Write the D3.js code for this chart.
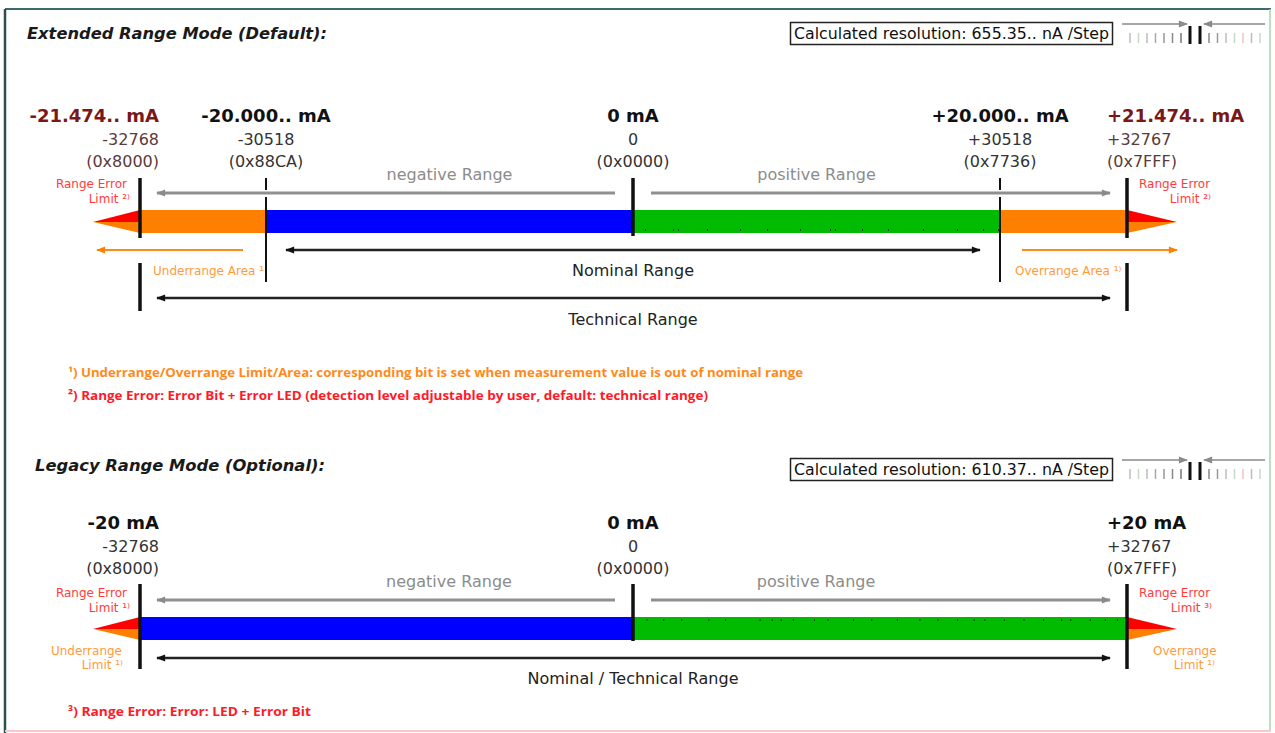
<!DOCTYPE html>
<html><head><meta charset="utf-8">
<script src="https://cdn.jsdelivr.net/npm/d3@7/dist/d3.min.js"></script>
<style>body{margin:0;background:#fff}svg{display:block}</style>
</head><body>
<svg id="c" width="1275" height="733"></svg>
<script>
// ---------- DATA ----------
const extTitle = "Extended Range Mode (Default):";
const extResolution = "Calculated resolution: 655.35.. nA /Step";
const extValues = [-32768, -30518, 0, 30518, 32767];
const extCurrent = ["-21.474.. mA", "-20.000.. mA", "0 mA", "+20.000.. mA", "+21.474.. mA"];
const extDecimal = ["-32768", "-30518", "0", "+30518", "+32767"];
const extHex = ["(0x8000)", "(0x88CA)", "(0x0000)", "(0x7736)", "(0x7FFF)"];
const extSegFrom = [-32768, -30518, 0, 30518];
const extSegTo = [-30518, 0, 30518, 32767];
const extSegKind = ["under", "neg", "pos", "over"];
const extDots = [998, 3326, 3742, 6153, 8897, 11142, 13886, 16381, 16797, 19042, 21204, 24115, 26942, 29104, 30351];
const extNotes = [
  "¹) Underrange/Overrange Limit/Area: corresponding bit is set when measurement value is out of nominal range",
  "²) Range Error: Error Bit + Error LED (detection level adjustable by user, default: technical range)"
];

const legTitle = "Legacy Range Mode (Optional):";
const legResolution = "Calculated resolution: 610.37.. nA /Step";
const legValues = [-32768, 0, 32767];
const legCurrent = ["-20 mA", "0 mA", "+20 mA"];
const legDecimal = ["-32768", "0", "+32767"];
const legHex = ["(0x8000)", "(0x0000)", "(0x7FFF)"];
const legSegFrom = [-32768, 0];
const legSegTo = [0, 32767];
const legSegKind = ["neg", "pos"];
const legDots = [900, 2000, 3200, 5000, 6100, 8400, 9200, 9800, 10600, 12000, 12900, 14600, 15800, 17500, 19000, 20200, 21500, 22600, 23300, 24600, 25900, 27200, 28400, 29000, 30300, 31300, 32100];
const legNotes = ["³) Range Error: Error: LED + Error Bit"];

// ---------- STYLE ----------
const col = {under: "#ff8000", over: "#ff8000", neg: "#0000ff", pos: "#00bb00",
  red: "#ff0000", orange: "#ff8000", gray: "#909090", txtGray: "#8c8c8c",
  errText: "#ff3b3b", areaText: "#ff9a3c", dark: "#111"};
const FONT = "'DejaVu Sans', Verdana, sans-serif";

const svg = d3.select("#c");

// arrow markers
const defs = svg.append("defs");
function marker(id, color, w, h) {
  const m = defs.append("marker").attr("id", id).attr("viewBox", "0 0 10 10")
    .attr("refX", 9).attr("refY", 5).attr("markerWidth", w).attr("markerHeight", h)
    .attr("markerUnits", "userSpaceOnUse").attr("orient", "auto-start-reverse");
  m.append("path").attr("d", "M0,1 L10,5 L0,9 Z").attr("fill", color);
}
marker("aGray", "#8a8a8a", 10, 9);
marker("aBlack", "#111", 10, 9);
marker("aOrange", "#ff8000", 10, 9);

// frame
svg.append("line").attr("x1", 5).attr("x2", 1271).attr("y1", 9).attr("y2", 9).attr("stroke", "#3d6b6b").attr("stroke-width", 2);
svg.append("line").attr("x1", 5).attr("x2", 5).attr("y1", 9).attr("y2", 733).attr("stroke", "#2f4f4f").attr("stroke-width", 2.5);
svg.append("line").attr("x1", 1270).attr("x2", 1270).attr("y1", 9).attr("y2", 731).attr("stroke", "#a9d6a9").attr("stroke-width", 1.5);
svg.append("line").attr("x1", 5).attr("x2", 1271).attr("y1", 731).attr("y2", 731).attr("stroke", "#f7c9c9").attr("stroke-width", 2);

function text(g, x, y, s, opts) {
  const t = g.append("text").attr("x", x).attr("y", y).text(s)
    .attr("font-family", opts.family || FONT).attr("font-size", opts.size || 16)
    .attr("fill", opts.fill || col.dark).attr("text-anchor", opts.anchor || "start");
  if (opts.weight) t.attr("font-weight", opts.weight);
  if (opts.style) t.attr("font-style", opts.style);
  if (opts.len) t.attr("textLength", opts.len).attr("lengthAdjust", "spacingAndGlyphs");
  return t;
}

function resolutionBox(g, y, label) {
  g.append("rect").attr("x", 790.5).attr("y", y + 0.5).attr("width", 322).attr("height", 22)
    .attr("fill", "#fff").attr("stroke", "#222").attr("stroke-width", 1.5);
  text(g, 794, y + 17, label, {size: 15, fill: "#111", len: 315});
  // small scale icon
  const ig = g.append("g");
  ig.append("line").attr("x1", 1122).attr("x2", 1187).attr("y1", y + 2).attr("y2", y + 2)
    .attr("stroke", "#8a8a8a").attr("stroke-width", 1.5).attr("marker-end", "url(#aGray)");
  ig.append("line").attr("x1", 1265).attr("x2", 1204).attr("y1", y + 2).attr("y2", y + 2)
    .attr("stroke", "#8a8a8a").attr("stroke-width", 1.5).attr("marker-end", "url(#aGray)");
  const tickCols = ["#bbb", "#c8d8c8", "#bbb", "#aaa", "#999", "#888", "#777"];
  tickCols.forEach((c, i) => {
    ig.append("line").attr("x1", 1130 + i * 8.5).attr("x2", 1130 + i * 8.5).attr("y1", y + 11).attr("y2", y + 21)
      .attr("stroke", c).attr("stroke-width", 1.5);
  });
  const tickCols2 = ["#888", "#999", "#bbb", "#c8d8c8", "#f0c0c0", "#bbb", "#c8d8c8"];
  tickCols2.forEach((c, i) => {
    ig.append("line").attr("x1", 1209 + i * 8.5).attr("x2", 1209 + i * 8.5).attr("y1", y + 11).attr("y2", y + 21)
      .attr("stroke", c).attr("stroke-width", 1.5);
  });
  ig.append("line").attr("x1", 1190).attr("x2", 1190).attr("y1", y + 4).attr("y2", y + 22).attr("stroke", "#111").attr("stroke-width", 3);
  ig.append("line").attr("x1", 1200).attr("x2", 1200).attr("y1", y + 4).attr("y2", y + 22).attr("stroke", "#111").attr("stroke-width", 3);
}

function rangeArrow(g, x1, x2, y, mk, color, w, both) {
  const l = g.append("line").attr("x1", x1).attr("x2", x2).attr("y1", y).attr("y2", y)
    .attr("stroke", color).attr("stroke-width", w).attr("marker-end", `url(#${mk})`);
  if (both) l.attr("marker-start", `url(#${mk})`);
}

function errorTip(g, xBase, xApex, yTop, yBot) {
  const yMid = (yTop + yBot) / 2 + 0.5;
  g.append("path").attr("d", `M${xApex},${yMid} L${xBase},${yTop} L${xBase},${yMid} Z`).attr("fill", col.red);
  g.append("path").attr("d", `M${xApex},${yMid} L${xBase},${yMid} L${xBase},${yBot} Z`).attr("fill", col.orange);
}

// ================= EXTENDED SECTION =================
(function () {
  const g = svg.append("g");
  const x = d3.scaleLinear().domain(extValues).range([140, 266, 633, 1000, 1127]);
  text(g, 27, 39, extTitle, {size: 15, weight: "bold", style: "italic", fill: "#1a1a1a", len: 300});
  resolutionBox(g, 22, extResolution);

  // labels
  extValues.forEach((v, i) => {
    const end = i === 0 || i === extValues.length - 1;
    const anchor = i === 0 ? "end" : (i === extValues.length - 1 ? "start" : "middle");
    const xx = i === 0 ? x(v) + 19 : (i === extValues.length - 1 ? x(v) - 20 : x(v));
    text(g, xx, 122, extCurrent[i], {size: 18, weight: "bold", anchor, fill: end ? "#7a1717" : "#111"});
    text(g, xx, 145, extDecimal[i], {size: 16, anchor, fill: end ? "#5c3a3a" : "#333"});
    text(g, xx, 167, extHex[i], {size: 16, anchor, fill: end ? "#5c3a3a" : "#333"});
  });

  // range arrows
  rangeArrow(g, 615, 157, 193, "aGray", "#8f8f8f", 3, false);
  rangeArrow(g, 651, 1110, 193, "aGray", "#8f8f8f", 3, false);
  text(g, (x(-30518) + x(0)) / 2 + 0, 180, "negative Range", {size: 16, anchor: "middle", fill: col.txtGray});
  text(g, (x(0) + x(30518)) / 2 + 0, 180, "positive Range", {size: 16, anchor: "middle", fill: col.txtGray});

  // bar
  g.selectAll("rect.seg").data(extSegFrom).join("rect").attr("class", "seg")
    .attr("x", (d) => x(d)).attr("width", (d, i) => x(extSegTo[i]) - x(d))
    .attr("y", 210).attr("height", 23).attr("fill", (d, i) => col[extSegKind[i]]);
  g.selectAll("rect.dot").data(extDots).join("rect").attr("class", "dot")
    .attr("x", (d) => x(d)).attr("y", 229).attr("width", 1).attr("height", 2).attr("fill", "#222");
  errorTip(g, x(-32768), 93, 210, 233);
  errorTip(g, x(32767), 1177, 210, 233);

  // markers
  const vline = (xx, y1, y2, w) => g.append("line").attr("x1", xx).attr("x2", xx).attr("y1", y1).attr("y2", y2).attr("stroke", "#111").attr("stroke-width", w);
  vline(x(-32768), 178, 238, 3.5); vline(x(-32768), 263, 311, 3.5);
  vline(x(32767), 178, 238, 3.5); vline(x(32767), 263, 311, 3.5);
  vline(x(0), 178, 236, 3.5);
  [x(-30518), x(30518)].forEach((xx) => { vline(xx, 178, 190, 2); vline(xx, 197, 282, 2); });

  // error texts
  text(g, 127, 188, "Range Error", {size: 12, anchor: "end", fill: col.errText});
  text(g, 130, 203, "Limit ²⁾", {size: 12, anchor: "end", fill: col.errText});
  text(g, 1139, 188, "Range Error", {size: 12, fill: col.errText});
  text(g, 1211, 203, "Limit ²⁾", {size: 12, anchor: "end", fill: col.errText});

  // under/over area
  rangeArrow(g, 243, 97, 250, "aOrange", "#ff8c1a", 2, false);
  rangeArrow(g, 1022, 1177, 250, "aOrange", "#ff8c1a", 2, false);
  text(g, 153, 275, "Underrange Area ¹", {size: 12, fill: col.areaText});
  text(g, 1015, 275, "Overrange Area ¹⁾", {size: 12, fill: col.areaText});

  // nominal / technical
  rangeArrow(g, 286, 980, 250, "aBlack", "#222", 2.5, true);
  text(g, x(0), 276, "Nominal Range", {size: 16, anchor: "middle", fill: "#222"});
  rangeArrow(g, 157, 1110, 298, "aBlack", "#222", 2.5, true);
  text(g, x(0), 325, "Technical Range", {size: 16, anchor: "middle", fill: "#222"});

  // notes
  text(g, 68, 377, extNotes[0], {size: 13, weight: "bold", family: "'Open Sans', sans-serif", fill: "#ff8a1a", len: 735});
  text(g, 68, 400, extNotes[1], {size: 13, weight: "bold", family: "'Open Sans', sans-serif", fill: "#ff1a2a", len: 640});
})();

// ================= LEGACY SECTION =================
(function () {
  const g = svg.append("g");
  const x = d3.scaleLinear().domain(legValues).range([140, 633, 1127]);
  text(g, 35, 471, legTitle, {size: 15, weight: "bold", style: "italic", fill: "#1a1a1a", len: 290});
  resolutionBox(g, 458, legResolution);

  legValues.forEach((v, i) => {
    const anchor = i === 0 ? "end" : (i === legValues.length - 1 ? "start" : "middle");
    const xx = i === 0 ? x(v) + 19 : (i === legValues.length - 1 ? x(v) - 20 : x(v));
    text(g, xx, 529, legCurrent[i], {size: 18, weight: "bold", anchor, fill: "#111"});
    text(g, xx, 552, legDecimal[i], {size: 16, anchor, fill: "#333"});
    text(g, xx, 574, legHex[i], {size: 16, anchor, fill: "#333"});
  });

  rangeArrow(g, 615, 157, 600, "aGray", "#8f8f8f", 3, false);
  rangeArrow(g, 651, 1110, 600, "aGray", "#8f8f8f", 3, false);
  text(g, 449, 587, "negative Range", {size: 16, anchor: "middle", fill: col.txtGray});
  text(g, 816, 587, "positive Range", {size: 16, anchor: "middle", fill: col.txtGray});

  g.selectAll("rect.seg").data(legSegFrom).join("rect").attr("class", "seg")
    .attr("x", (d) => x(d)).attr("width", (d, i) => x(legSegTo[i]) - x(d))
    .attr("y", 617).attr("height", 23).attr("fill", (d, i) => col[legSegKind[i]]);
  g.selectAll("rect.dot").data(legDots).join("rect").attr("class", "dot")
    .attr("x", (d) => x(d)).attr("y", 619).attr("width", 1).attr("height", 2).attr("fill", "#222");
  errorTip(g, x(-32768), 93, 617, 640);
  errorTip(g, x(32767), 1177, 617, 640);

  const vline = (xx, y1, y2, w) => g.append("line").attr("x1", xx).attr("x2", xx).attr("y1", y1).attr("y2", y2).attr("stroke", "#111").attr("stroke-width", w);
  vline(x(-32768), 584, 669, 3.5);
  vline(x(32767), 584, 669, 3.5);
  vline(x(0), 584, 641, 3.5);

  text(g, 127, 597, "Range Error", {size: 12, anchor: "end", fill: col.errText});
  text(g, 130, 612, "Limit ¹⁾", {size: 12, anchor: "end", fill: col.errText});
  text(g, 1139, 597, "Range Error", {size: 12, fill: col.errText});
  text(g, 1212, 612, "Limit ³⁾", {size: 12, anchor: "end", fill: col.errText});
  text(g, 122, 655, "Underrange", {size: 12, anchor: "end", fill: col.areaText});
  text(g, 123, 669, "Limit ¹⁾", {size: 12, anchor: "end", fill: col.areaText});
  text(g, 1153, 655, "Overrange", {size: 12, fill: col.areaText});
  text(g, 1215, 669, "Limit ¹⁾", {size: 12, anchor: "end", fill: col.areaText});

  rangeArrow(g, 157, 1110, 658, "aBlack", "#222", 2.5, true);
  text(g, x(0), 684, "Nominal / Technical Range", {size: 16, anchor: "middle", fill: "#222"});

  text(g, 68, 716, legNotes[0], {size: 13, weight: "bold", family: "'Open Sans', sans-serif", fill: "#ff1a2a", len: 243});
})();
</script>
</body></html>
